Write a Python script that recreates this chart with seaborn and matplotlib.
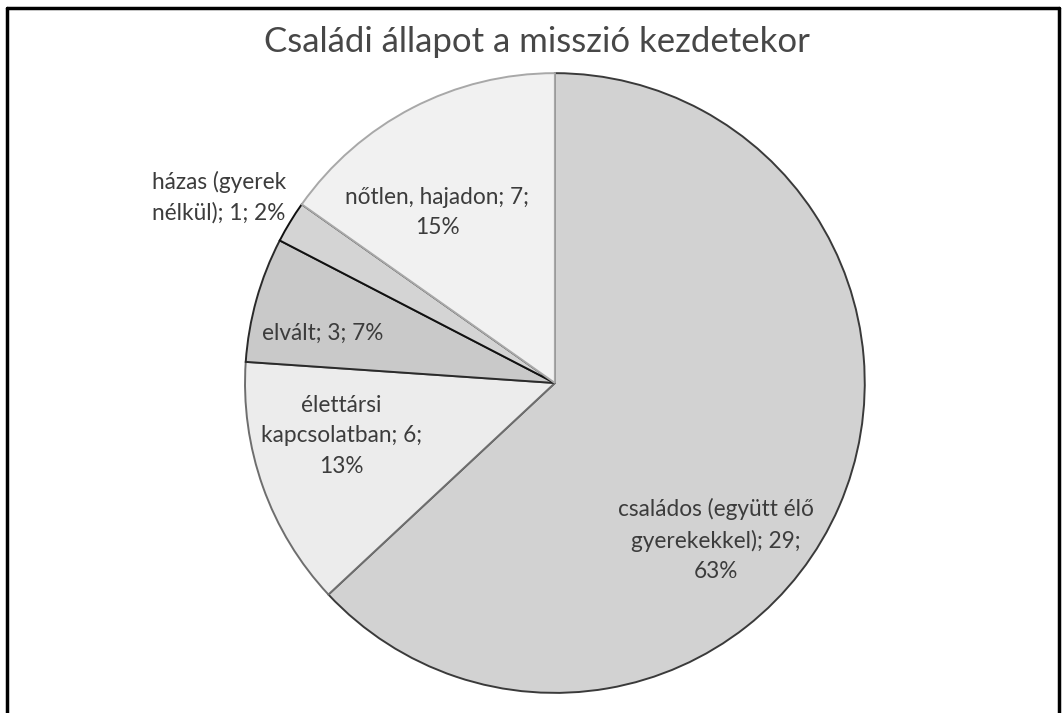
import matplotlib
matplotlib.use("Agg")
import matplotlib.pyplot as plt
import seaborn as sns

# data (clockwise from 12 o'clock)
categories = ["családos (együtt élő\ngyerekekkel)", "élettársi\nkapcsolatban", "elvált",
              "házas (gyerek\nnélkül)", "nőtlen, hajadon"]
counts = [29, 6, 3, 1, 7]
percents = [63, 13, 7, 2, 15]

sns.set_theme(style="white")
plt.rcParams["font.family"] = ["Lato", "DejaVu Sans"]

colors = ["#d2d2d2", "#ececec", "#c9c9c9", "#d4d4d4", "#f1f1f1"]
edges = ["#3a3a3a", "#6e6e6e", "#2a2a2a", "#111111", "#a8a8a8"]

fig = plt.figure(figsize=(10.63, 7.13), dpi=100)
ax = fig.add_axes([0.2305, 0.028, 0.583, 0.8696])

wedges, _ = ax.pie(counts, colors=colors, startangle=90, counterclock=False,
                   wedgeprops=dict(linewidth=1.4))
for w, ec in zip(wedges, edges):
    w.set_edgecolor(ec)
ax.set_xlim(-1, 1)
ax.set_ylim(-1, 1)
ax.set_aspect("equal")
ax.axis("off")

# label texts and positions in pie units
label_text = ["családos (együtt élő\ngyerekekkel); {n};\n{p}%",
              "élettársi\nkapcsolatban; {n};\n{p}%",
              "elvált; {n}; {p}%",
              "házas (gyerek\nnélkül); {n}; {p}%",
              "nőtlen, hajadon; {n};\n{p}%"]
label_pos = [(0.52, -0.506), (-0.69, -0.17), (-0.75, 0.16), (-1.084, 0.60), (-0.38, 0.55)]
for fmt, n, p, (x, y) in zip(label_text, counts, percents, label_pos):
    ax.text(x, y, fmt.format(n=n, p=p), ha="center", va="center", fontsize=16.3,
            color="#3c3c3c", linespacing=1.55, clip_on=False)

fig.text(0.505, 0.941, "Családi állapot a misszió kezdetekor", ha="center",
         va="center", fontsize=25, color="#474747")

# outer frame (bottom edge is cut off in the reference)
kw = dict(color="black", lw=2.5, transform=fig.transFigure)
fig.add_artist(plt.Line2D([0.0066, 0.0066], [0, 0.989], **kw))
fig.add_artist(plt.Line2D([0.996, 0.996], [0, 0.989], **kw))
fig.add_artist(plt.Line2D([0.0066, 0.996], [0.989, 0.989], **kw))

fig.savefig("out.png", dpi=100, facecolor="white")
